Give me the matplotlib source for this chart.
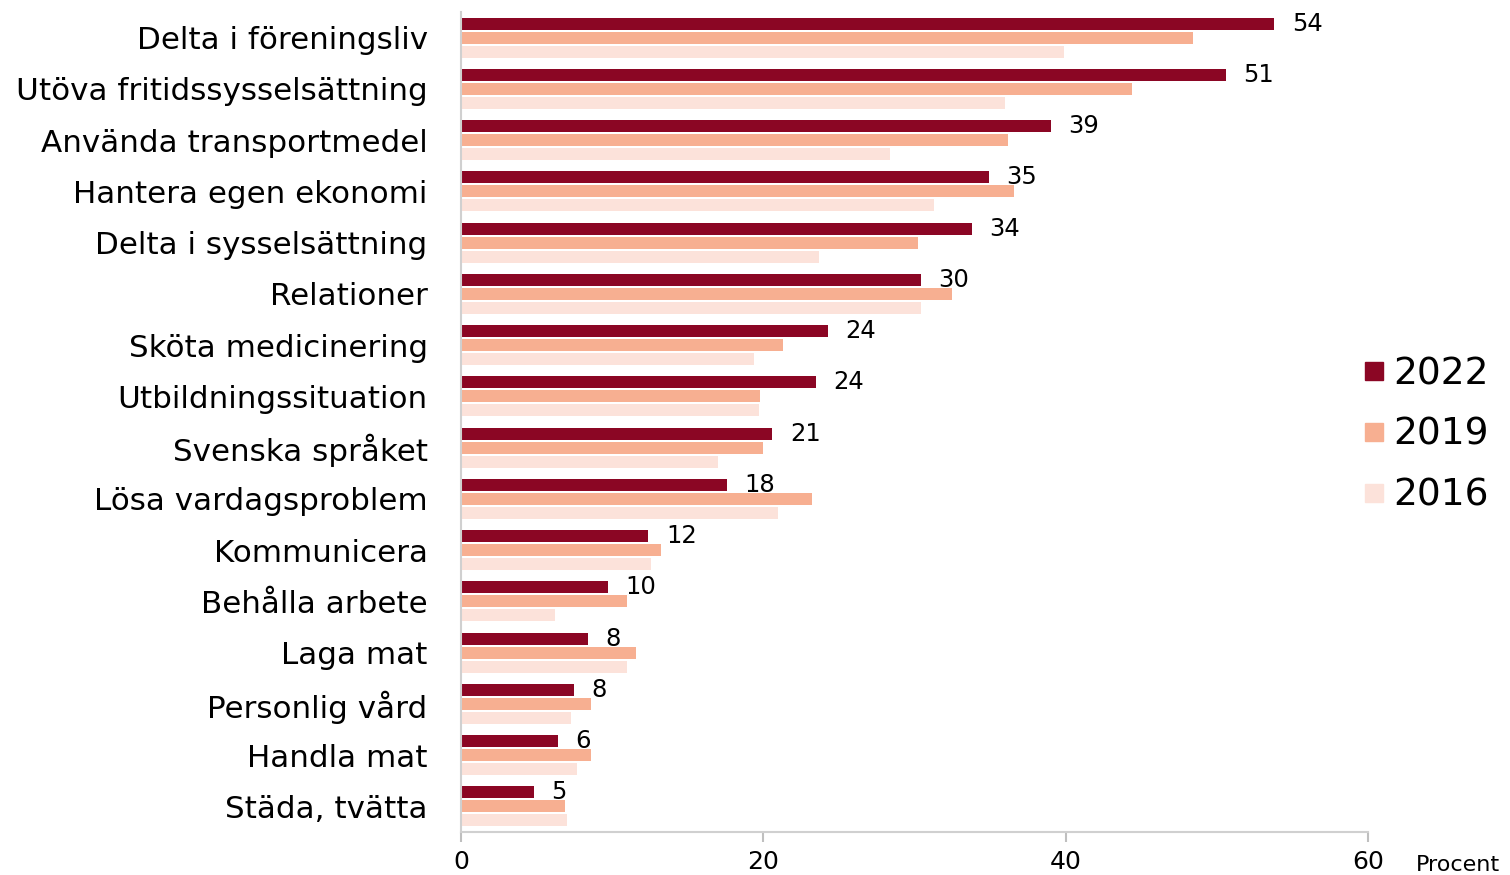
import matplotlib.pyplot as plt
from matplotlib.lines import Line2D
import numpy as np

plt.rcParams['font.family'] = ['DejaVu Sans']

categories = ['Delta i föreningsliv', 'Utöva fritidssysselsättning', 'Använda transportmedel',
              'Hantera egen ekonomi', 'Delta i sysselsättning', 'Relationer', 'Sköta medicinering',
              'Utbildningssituation', 'Svenska språket', 'Lösa vardagsproblem', 'Kommunicera',
              'Behålla arbete', 'Laga mat', 'Personlig vård', 'Handla mat', 'Städa, tvätta']
v2022 = [53.8, 50.6, 39.0, 34.9, 33.8, 30.4, 24.3, 23.5, 20.6, 17.6, 12.4, 9.7, 8.4, 7.5, 6.4, 4.8]
v2019 = [48.4, 44.4, 36.2, 36.6, 30.2, 32.5, 21.3, 19.8, 20.0, 23.2, 13.2, 11.0, 11.6, 8.6, 8.6, 6.9]
v2016 = [39.9, 36.0, 28.4, 31.3, 23.7, 30.4, 19.4, 19.7, 17.0, 21.0, 12.6, 6.2, 11.0, 7.3, 7.7, 7.0]
years = ['2022', '2019', '2016']
colors = ['#8B0624', '#F7AF91', '#FCE2DA']

fig = plt.figure(figsize=(15.1, 8.75), dpi=100)
ax = fig.add_axes([0.3053, 0.0491, 0.6007, 0.9372])

y = np.arange(len(categories))
off = 0.272
h = 0.235
for i, (vals, c) in enumerate(zip([v2022, v2019, v2016], colors)):
    ax.barh(y + (i - 1) * off, vals, height=h, color=c, edgecolor='none')

for yi, v in zip(y, v2022):
    ax.text(v + 1.15, yi - off, f'{round(v)}', va='center', ha='left', fontsize=17.5)

ax.set_xlim(0, 60)
ax.set_ylim(len(categories) - 0.5, -0.5)
ax.set_xticks([0, 20, 40, 60])
ax.set_yticks(y)
ax.set_yticklabels(categories, fontsize=22.3)
ax.tick_params(axis='y', length=0, pad=24)
ax.tick_params(axis='x', labelsize=18, length=7, width=1.5, color='#BFBFBF', pad=6)
for s in ['top', 'right']:
    ax.spines[s].set_visible(False)
for s in ['left', 'bottom']:
    ax.spines[s].set_color('#D0D0D0')
    ax.spines[s].set_linewidth(1.5)

fig.text(0.9935, 0.0114, 'Procent', ha='right', va='center', fontsize=16)

handles = [Line2D([], [], marker='s', linestyle='none', markersize=13, color=c) for c in colors]
fig.legend(handles, years, loc='center left', bbox_to_anchor=(0.8803, 0.503), frameon=False,
           fontsize=27, handlelength=0.6, handletextpad=0.2, labelspacing=0.66)

plt.savefig('out.png', dpi=100)
